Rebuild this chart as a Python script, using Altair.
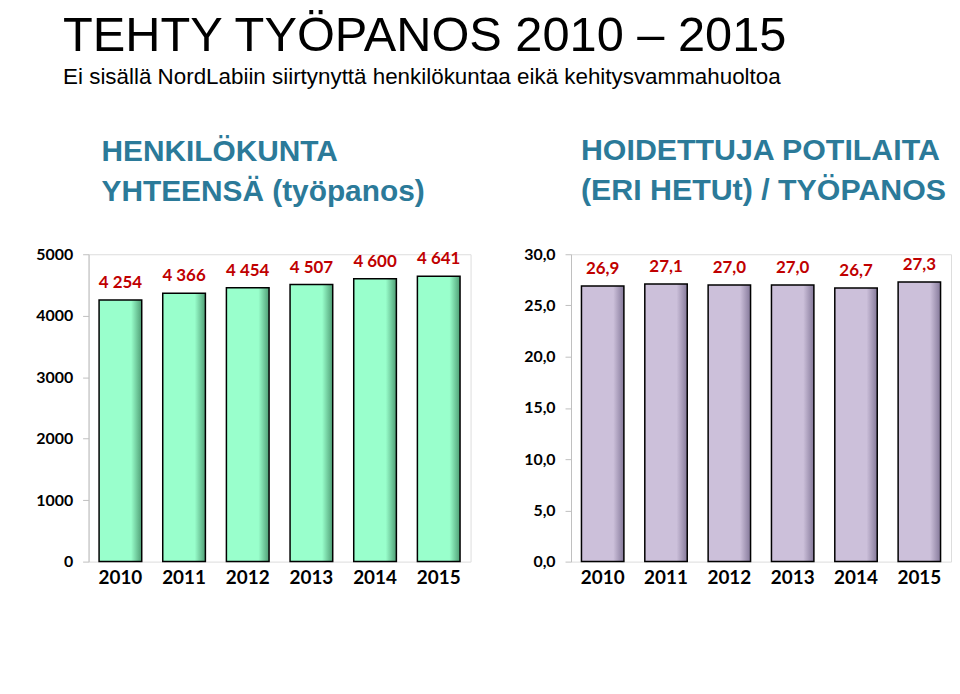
import altair as alt
import pandas as pd

years = ["2010", "2011", "2012", "2013", "2014", "2015"]
staff_fte = [4254, 4366, 4454, 4507, 4600, 4641]
patients_per_fte = [26.9, 27.1, 27.0, 27.0, 26.7, 27.3]

left_ticks = [0, 1000, 2000, 3000, 4000, 5000]
right_ticks = [0, 5, 10, 15, 20, 25, 30]

main_title = "TEHTY TYÖPANOS 2010 – 2015"
main_subtitle = "Ei sisällä NordLabiin siirtynyttä henkilökuntaa eikä kehitysvammahuoltoa"
left_title = ["HENKILÖKUNTA", "YHTEENSÄ (työpanos)"]
right_title = ["HOIDETTUJA POTILAITA", "(ERI HETUt) / TYÖPANOS"]

df_left = pd.DataFrame({"year": years, "value": staff_fte})
df_right = pd.DataFrame({"year": years, "value": patients_per_fte})

TITLE_COLOR = "#2B7A99"


def panel(df, domain, ticks, axis_expr, label_expr, fill, edge, title_lines,
          title_size, title_dx, width):
    x = alt.X(
        "year:N", sort=years, title=None,
        scale=alt.Scale(paddingInner=0.33, paddingOuter=0.165),
        axis=alt.Axis(labelAngle=0, domain=False, ticks=False, labelFont="Lato",
                      labelFontWeight="bold", labelFontSize=19, labelColor="black",
                      labelPadding=7),
    )
    y = alt.Y(
        "value:Q", title=None,
        scale=alt.Scale(domain=domain, nice=False, zero=True),
        axis=alt.Axis(values=ticks, grid=False, domainColor="#BFBFBF",
                      tickColor="#BFBFBF", tickSize=6, labelPadding=10,
                      labelFont="Lato", labelFontWeight="bold", labelFontSize=16,
                      labelColor="black", labelExpr=axis_expr),
    )
    base = alt.Chart(df)
    bars = base.mark_bar(
        stroke="black", strokeWidth=1.5,
        fill=alt.LinearGradient(
            gradient="linear", x1=0, x2=1, y1=0, y2=0,
            stops=[alt.GradientStop(offset=0, color=fill),
                   alt.GradientStop(offset=0.75, color=fill),
                   alt.GradientStop(offset=1, color=edge)],
        ),
    ).encode(x=x, y=y)
    labels = base.transform_calculate(lbl=label_expr).mark_text(
        baseline="bottom", dy=-8, color="#C00000", font="Lato",
        fontWeight="bold", fontSize=17,
    ).encode(x=alt.X("year:N", sort=years), y="value:Q", text="lbl:N")
    return alt.layer(bars, labels).properties(
        width=width, height=309,
        title=alt.TitleParams(
            text=title_lines, anchor="start", frame="group", dx=title_dx,
            font="Liberation Sans", fontSize=title_size, fontWeight="bold",
            color=TITLE_COLOR, lineHeight=40, offset=40,
        ),
    )


left = panel(df_left, [0, 5000], left_ticks, "format(datum.value, 'd')",
             "replace(format(datum.value, ','), ',', ' ')",
             "#99FFCC", "#4F9E75", left_title, 30, 13, 384)
right = panel(df_right, [0, 30], right_ticks,
              "replace(format(datum.value, '.1f'), '.', ',')",
              "replace(format(datum.value, '.1f'), '.', ',')",
              "#CCC0DA", "#85799A", right_title, 30.5, 10, 382)

chart = alt.hconcat(left, right, spacing=51).properties(
    padding={"left": 27, "top": 2, "right": 0, "bottom": 0},
    title=alt.TitleParams(
        text=main_title, subtitle=main_subtitle, anchor="start", dx=28,
        font="Liberation Sans", fontSize=49, fontWeight="normal", color="black",
        subtitleFont="Liberation Sans", subtitleFontSize=22.5, subtitleColor="black",
        subtitlePadding=5, offset=48,
    ),
).configure_view(stroke=None).configure(background="white")

chart.save("out.html", embed_options={"renderer": "svg", "actions": False})
